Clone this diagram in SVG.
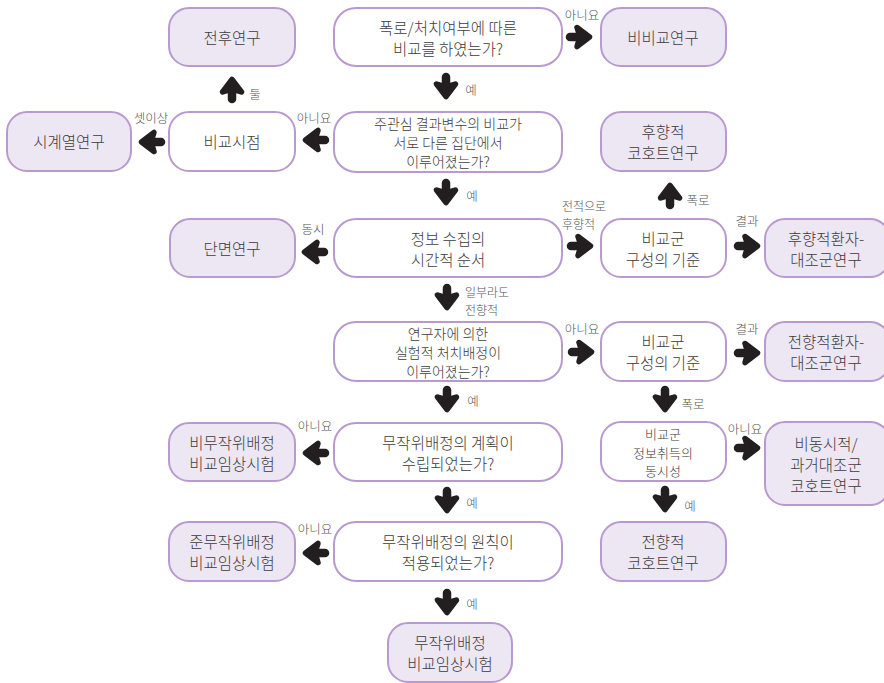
<svg xmlns="http://www.w3.org/2000/svg" width="884" height="683" viewBox="0 0 884 683">
<style>
.q{fill:#ffffff;stroke:#b99ad0;stroke-width:2}
.t{fill:#ede6f3;stroke:#b99ad0;stroke-width:2}
text{font-family:"Noto Sans CJK KR","Noto Sans",sans-serif;font-weight:300;fill:#3c3c3c;text-anchor:middle;dominant-baseline:central}
.b{font-size:15.5px}
.m{font-size:14px}
.s{font-size:13px}
.l{font-size:12.5px;fill:#555555}
.ls{font-size:12px;fill:#555555;text-anchor:start}
</style>
<defs>
<g id="arr">
<line x1="-10" y1="0" x2="2" y2="0" stroke="#231f20" stroke-width="8.5" stroke-linecap="round"/>
<path d="M-3,-9.5 L9.5,0 L-3,9.5 Q1,0 -3,-9.5 Z" fill="#231f20" stroke="#231f20" stroke-width="5.5" stroke-linejoin="round"/>
</g>
</defs>
<rect width="884" height="683" fill="#ffffff"/>

<g id="connectors">
<use href="#arr" transform="translate(580,37)"/>
<use href="#arr" transform="translate(446,87) rotate(90)"/>
<use href="#arr" transform="translate(315,140) rotate(180)"/>
<use href="#arr" transform="translate(232,89) rotate(-90)"/>
<use href="#arr" transform="translate(151,142) rotate(180)"/>
<use href="#arr" transform="translate(446,193) rotate(90)"/>
<use href="#arr" transform="translate(314,252) rotate(180)"/>
<use href="#arr" transform="translate(581,246)"/>
<use href="#arr" transform="translate(670,195) rotate(-90)"/>
<use href="#arr" transform="translate(748,246)"/>
<use href="#arr" transform="translate(447,298) rotate(90)"/>
<use href="#arr" transform="translate(582,352)"/>
<use href="#arr" transform="translate(748,353)"/>
<use href="#arr" transform="translate(665,400) rotate(90)"/>
<use href="#arr" transform="translate(748,448)"/>
<use href="#arr" transform="translate(665,500) rotate(90)"/>
<use href="#arr" transform="translate(447,400) rotate(90)"/>
<use href="#arr" transform="translate(315,453) rotate(180)"/>
<use href="#arr" transform="translate(447,501) rotate(90)"/>
<use href="#arr" transform="translate(315,553) rotate(180)"/>
<use href="#arr" transform="translate(447,603) rotate(90)"/>

<text class="l" x="582" y="14">아니요</text>
<text class="l" x="471" y="89">예</text>
<text class="l" x="314" y="117">아니요</text>
<text class="l" x="255" y="93">둘</text>
<text class="l" x="151" y="117">셋이상</text>
<text class="l" x="472" y="195">예</text>
<text class="l" x="313" y="228">동시</text>
<text class="ls" x="562" y="205">전적으로</text>
<text class="ls" x="562" y="223">후향적</text>
<text class="l" x="698" y="199">폭로</text>
<text class="l" x="747" y="220">결과</text>
<text class="ls" x="465" y="291">일부라도</text>
<text class="ls" x="465" y="309">전향적</text>
<text class="l" x="582" y="328">아니요</text>
<text class="l" x="473" y="400">예</text>
<text class="l" x="747" y="328">결과</text>
<text class="l" x="693" y="403">폭로</text>
<text class="l" x="745" y="428">아니요</text>
<text class="l" x="690" y="505">예</text>
<text class="l" x="315" y="425">아니요</text>
<text class="l" x="472" y="502">예</text>
<text class="l" x="315" y="528">아니요</text>
<text class="l" x="472" y="603">예</text>
</g>

<g id="n_prepost"><rect class="t" x="169" y="8" width="126" height="58" rx="20"/><text class="b" x="232" y="37">전후연구</text></g>
<g id="q1"><rect class="q" x="334" y="8" width="228" height="58" rx="22"/><text class="b" x="448" y="27">폭로/처치여부에 따른</text><text class="b" x="448" y="48">비교를 하였는가?</text></g>
<g id="n_noncomp"><rect class="t" x="601" y="8" width="125" height="58" rx="20"/><text class="b" x="663" y="37">비비교연구</text></g>

<g id="n_ts"><rect class="t" x="7" y="112" width="124" height="59" rx="20"/><text class="b" x="69" y="141">시계열연구</text></g>
<g id="n_comptime"><rect class="q" x="169" y="112" width="126" height="59" rx="20"/><text class="b" x="232" y="141">비교시점</text></g>
<g id="q2"><rect class="q" x="334" y="112" width="228" height="60" rx="22"/><text class="m" x="448" y="123">주관심 결과변수의 비교가</text><text class="m" x="448" y="142">서로 다른 집단에서</text><text class="m" x="448" y="161">이루어졌는가?</text></g>
<g id="n_retcohort"><rect class="t" x="601" y="112" width="125" height="59" rx="20"/><text class="b" x="663" y="131">후향적</text><text class="b" x="663" y="152">코호트연구</text></g>

<g id="n_cross"><rect class="t" x="170" y="219" width="125" height="58" rx="20"/><text class="b" x="232" y="248">단면연구</text></g>
<g id="q3"><rect class="q" x="334" y="219" width="228" height="58" rx="22"/><text class="b" x="448" y="238">정보 수집의</text><text class="b" x="448" y="259">시간적 순서</text></g>
<g id="n_cg1"><rect class="q" x="601" y="219" width="125" height="58" rx="20"/><text class="b" x="663" y="238">비교군</text><text class="b" x="663" y="259">구성의 기준</text></g>
<g id="n_retcc"><rect class="t" x="765" y="219" width="125" height="58" rx="20"/><text class="b" x="826" y="238">후향적환자-</text><text class="b" x="826" y="259">대조군연구</text></g>

<g id="q4"><rect class="q" x="334" y="322" width="228" height="59" rx="22"/><text class="m" x="448" y="333">연구자에 의한</text><text class="m" x="448" y="352">실험적 처치배정이</text><text class="m" x="448" y="371">이루어졌는가?</text></g>
<g id="n_cg2"><rect class="q" x="601" y="322" width="125" height="59" rx="20"/><text class="b" x="663" y="341">비교군</text><text class="b" x="663" y="362">구성의 기준</text></g>
<g id="n_procc"><rect class="t" x="765" y="322" width="125" height="59" rx="20"/><text class="b" x="826" y="341">전향적환자-</text><text class="b" x="826" y="362">대조군연구</text></g>

<g id="n_nonrand"><rect class="t" x="169" y="423" width="126" height="58" rx="20"/><text class="b" x="232" y="442">비무작위배정</text><text class="b" x="232" y="463">비교임상시험</text></g>
<g id="q5"><rect class="q" x="334" y="423" width="228" height="58" rx="22"/><text class="b" x="448" y="442">무작위배정의 계획이</text><text class="b" x="448" y="463">수립되었는가?</text></g>
<g id="n_concur"><rect class="q" x="601" y="422" width="125" height="59" rx="20"/><text class="s" x="663" y="433">비교군</text><text class="s" x="663" y="452">정보취득의</text><text class="s" x="663" y="470">동시성</text></g>
<g id="n_hist"><rect class="t" x="765" y="422" width="125" height="83" rx="20"/><text class="b" x="826" y="443">비동시적/</text><text class="b" x="826" y="464">과거대조군</text><text class="b" x="826" y="485">코호트연구</text></g>

<g id="n_quasi"><rect class="t" x="169" y="522" width="126" height="59" rx="20"/><text class="b" x="232" y="541">준무작위배정</text><text class="b" x="232" y="562">비교임상시험</text></g>
<g id="q6"><rect class="q" x="334" y="522" width="228" height="59" rx="22"/><text class="b" x="448" y="541">무작위배정의 원칙이</text><text class="b" x="448" y="562">적용되었는가?</text></g>
<g id="n_procohort"><rect class="t" x="601" y="522" width="125" height="59" rx="20"/><text class="b" x="663" y="541">전향적</text><text class="b" x="663" y="562">코호트연구</text></g>

<g id="n_rand"><rect class="t" x="388" y="623" width="124" height="59" rx="20"/><text class="b" x="450" y="642">무작위배정</text><text class="b" x="450" y="663">비교임상시험</text></g>
</svg>
